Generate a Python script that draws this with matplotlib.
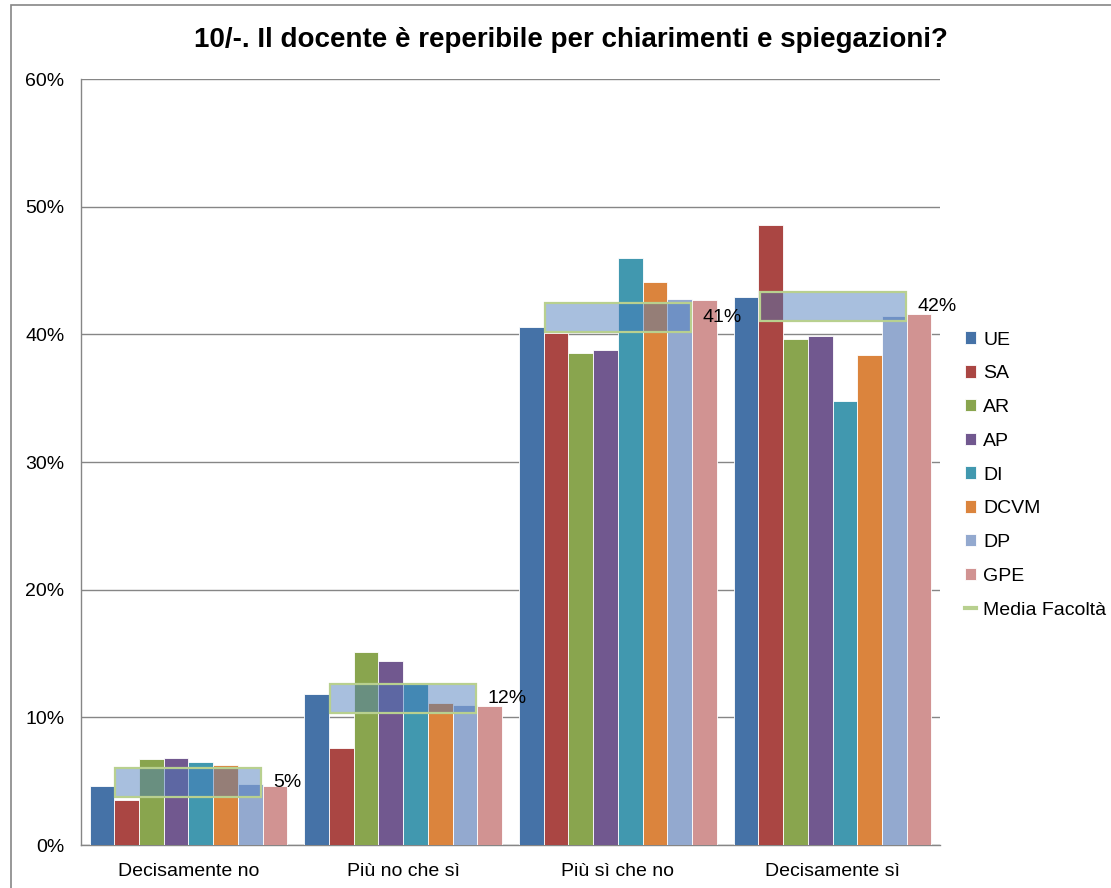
import numpy as np
import matplotlib
matplotlib.use("Agg")
from matplotlib import pyplot as plt
from matplotlib.patches import Rectangle
from matplotlib.lines import Line2D
from matplotlib.ticker import FuncFormatter

plt.rcParams['font.family'] = ['Liberation Sans', 'DejaVu Sans']

# data (percent)
categories = ["Decisamente no", "Più no che sì", "Più sì che no", "Decisamente sì"]
series_names = ["UE", "SA", "AR", "AP", "DI", "DCVM", "DP", "GPE"]
UE = [4.6, 11.8, 40.6, 42.9]
SA = [3.5, 7.6, 40.1, 48.6]
AR = [6.7, 15.1, 38.5, 39.6]
AP = [6.8, 14.4, 38.8, 39.9]
DI = [6.5, 12.7, 46.0, 34.8]
DCVM = [6.3, 11.1, 44.1, 38.4]
DP = [4.8, 11.0, 42.8, 41.4]
GPE = [4.6, 10.9, 42.7, 41.6]
media = [4.9, 11.5, 41.3, 42.2]
media_labels = ["5%", "12%", "41%", "42%"]

colors = ["#4572A7", "#AA4643", "#89A54E", "#71588F",
          "#4198AF", "#DB843D", "#93A9CF", "#D19392"]

fs = 14

fig = plt.figure(figsize=(11.11, 8.88), dpi=100)
ax = fig.add_axes([81/1111, 43/888, 859/1111, 766/888])

# chart frame
fig.patches.append(Rectangle((11/1111, -0.1), 1.2, (888-5)/888 + 0.1,
                             transform=fig.transFigure, fill=False,
                             edgecolor="#868686", linewidth=1.2))

all_series = [UE, SA, AR, AP, DI, DCVM, DP, GPE]
x = np.arange(len(categories))
bw = 1 / 8.69
for i, vals in enumerate(all_series):
    ax.bar(x + (i - 3.5) * bw, vals, bw, color=colors[i], edgecolor="white",
           linewidth=0.6, label=series_names[i], zorder=3)

# Media Facolta boxes
box_w = 0.68
box_h = 2.27
for xi, m, lab in zip(x, media, media_labels):
    ax.add_patch(Rectangle((xi - box_w / 2, m - box_h / 2), box_w, box_h,
                           facecolor=(0.28, 0.47, 0.73, 0.47),
                           edgecolor="#B8D08F", linewidth=1.6, zorder=4))
    ax.text(xi + box_w / 2 + 0.055, m, lab, fontsize=fs, va="center",
            ha="left", zorder=5)

ax.set_xlim(-0.5, 3.5)
ax.set_ylim(0, 60)
ax.set_yticks(np.arange(0, 61, 10))
ax.yaxis.set_major_formatter(FuncFormatter(lambda v, p: f"{v:.0f}%"))
ax.set_xticks(x)
ax.set_xticklabels(categories, fontsize=fs)
ax.tick_params(axis="y", labelsize=fs, length=0, pad=12)
ax.tick_params(axis="x", length=0, pad=13)
ax.grid(axis="y", color="#868686", linewidth=1.0, zorder=0)
for s in ["top", "right"]:
    ax.spines[s].set_visible(False)
ax.spines["left"].set_color("#868686")
ax.spines["bottom"].set_color("#868686")
ax.spines["left"].set_linewidth(1.0)
ax.spines["bottom"].set_linewidth(1.0)

fig.text(571/1111, 1 - 40/888, "10/-. Il docente è reperibile per chiarimenti e spiegazioni?",
         fontsize=20, fontweight="bold", ha="center", va="center")

handles, labels = ax.get_legend_handles_labels()
handles.append(Line2D([], [], color="#B8D08F", linewidth=3))
labels.append("Media Facoltà")
leg = fig.legend(handles, labels, loc="center left", bbox_to_anchor=(957/1111, 1 - 475/888),
                 frameon=False, fontsize=fs, handlelength=0.6, handleheight=0.6,
                 handletextpad=0.35, labelspacing=0.86, borderaxespad=0)

fig.savefig("out.png", dpi=100)
